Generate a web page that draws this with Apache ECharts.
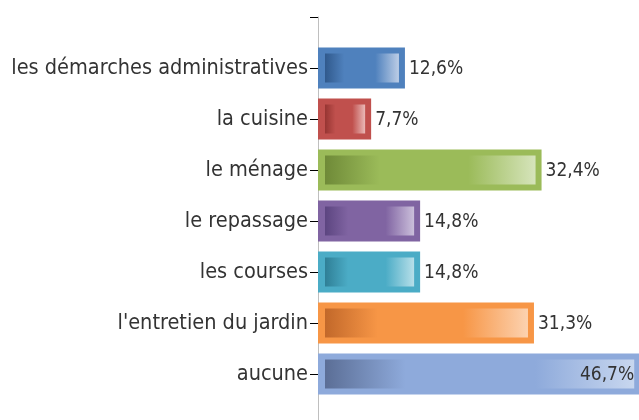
<!DOCTYPE html>
<html>
<head>
<meta charset="utf-8">
<script src="https://cdn.jsdelivr.net/npm/echarts@6/dist/echarts.min.js"></script>
<style>
  html, body { margin: 0; padding: 0; background: #fff; }
  #chart { width: 639px; height: 420px; }
</style>
</head>
<body>
<div id="chart"></div>
<script>
// categories and shares (%)
const categories = ['les démarches administratives', 'la cuisine', 'le ménage', 'le repassage', 'les courses', "l'entretien du jardin", 'aucune'];
const values = [12.6, 7.7, 32.4, 14.8, 14.8, 31.3, 46.7];

// bar colours: border/base, dark left end, light right end
const baseColors = ['#4f81bd', '#c0504d', '#9bbb59', '#8064a2', '#4bacc6', '#f79646', '#8eaadb'];
const darkColors = ['#30598c', '#963532', '#6f8a38', '#5c4580', '#2f7f96', '#c2682a', '#5b6e96'];
const lightColors = ['#bccde6', '#eab9b7', '#d6e4bb', '#cbbfdb', '#b7dfe9', '#fcd2b0', '#c8d7ef'];

// an empty slot above and below, like the original axis
const axisCats = [''].concat(categories, ['']);

const FONT = "'DejaVu Sans Condensed', 'Liberation Sans', sans-serif";

const chart = echarts.init(document.getElementById('chart'));

function fmt(v) {
    return v.toFixed(1).replace('.', ',') + '%';
}

function renderItem(params, api) {
    const ci = api.value(0);
    const v = api.value(1);
    const i = params.dataIndex;
    const p0 = api.coord([0, ci]);
    const p1 = api.coord([v, ci]);
    const h = api.size([0, 1])[1] * 0.8;
    const x = p0[0], y = p0[1] - h / 2, w = p1[0] - p0[0];
    const inside = p1[0] + 62 > api.getWidth();
    return {
        type: 'group',
        children: [
            {
                type: 'rect',
                shape: { x: x, y: y, width: w, height: h },
                style: { fill: baseColors[i] }
            },
            {
                type: 'rect',
                shape: { x: x + 7, y: y + 6, width: w - 13, height: h - 12 },
                style: {
                    fill: new echarts.graphic.LinearGradient(0, 0, 1, 0, [
                        { offset: 0, color: darkColors[i] },
                        { offset: 0.26, color: baseColors[i] },
                        { offset: 0.68, color: baseColors[i] },
                        { offset: 1, color: lightColors[i] }
                    ])
                }
            },
            {
                type: 'text',
                x: inside ? p1[0] - 6 : p1[0] + 4,
                y: p0[1] + 1,
                style: {
                    text: fmt(v),
                    fill: '#333',
                    font: '19px ' + FONT,
                    align: inside ? 'right' : 'left',
                    verticalAlign: 'middle'
                }
            }
        ]
    };
}

var option = {
    animation: false,
    grid: {
        left: 318,
        top: 17,
        width: 345,
        height: 408,
        outerBoundsMode: 'none'
    },
    xAxis: {
        type: 'value',
        min: 0,
        max: 50,
        show: false
    },
    yAxis: {
        type: 'category',
        data: axisCats,
        inverse: true,
        boundaryGap: false,
        axisLine: { lineStyle: { color: '#bfbfbf', width: 1 } },
        axisTick: { show: true, length: 8, lineStyle: { color: '#000' } },
        axisLabel: {
            margin: 10,
            color: '#333',
            fontSize: 21.5,
            fontFamily: FONT
        },
        splitLine: { show: false }
    },
    series: [
        {
            type: 'custom',
            renderItem: renderItem,
            encode: { x: 1, y: 0 },
            data: values.map(function (v, i) { return [i + 1, v]; })
        }
    ]
};
chart.setOption(option);
</script>
</body>
</html>
